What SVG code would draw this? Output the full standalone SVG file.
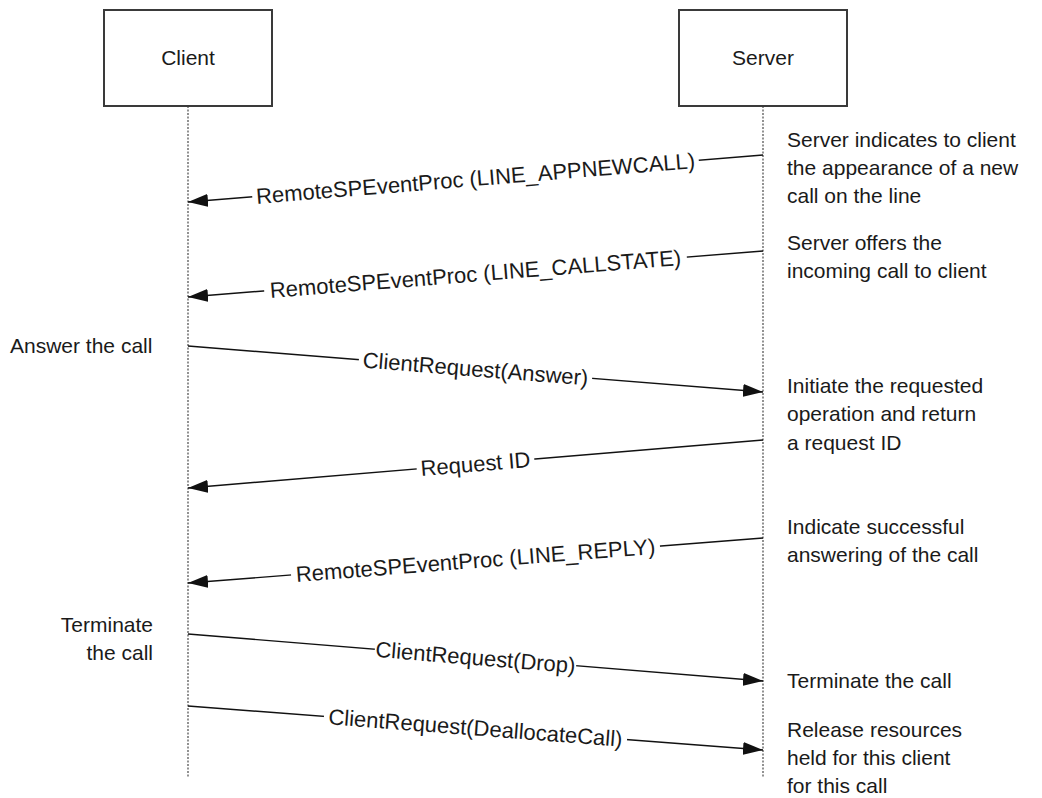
<svg xmlns="http://www.w3.org/2000/svg" width="1042" height="798" viewBox="0 0 1042 798">
<defs>
<style>
.box{fill:#fff;stroke:#3a3a3a;stroke-width:2}
.life{stroke:#777;stroke-width:1.6;stroke-dasharray:2,1.5;fill:none}
.msg{stroke:#111;stroke-width:1.4;fill:none;marker-end:url(#ah)}
.t{font-family:"Liberation Sans",Arial,sans-serif;font-size:21px;fill:#1a1a1a}
.lbl{font-family:"Liberation Sans",Arial,sans-serif;font-size:22px;fill:#1a1a1a;text-anchor:middle}
.bg{fill:#fff;stroke:none}
.c{text-anchor:middle}
.e{text-anchor:end}
</style>
<marker id="ah" markerUnits="userSpaceOnUse" markerWidth="20" markerHeight="13" refX="20" refY="6.5" orient="auto">
<path d="M0,0 L20,6.5 L0,13 z" fill="#111"/>
</marker>
</defs>
<rect width="1042" height="798" fill="#fff"/>

<g id="client">
<line class="life" x1="188" y1="106" x2="188" y2="778"/>
<rect class="box" x="104" y="10" width="168" height="96"/>
<text class="t c" x="188" y="65">Client</text>
</g>

<g id="server">
<line class="life" x1="763" y1="106" x2="763" y2="778"/>
<rect class="box" x="679" y="10" width="168" height="96"/>
<text class="t c" x="763" y="65">Server</text>
</g>

<g id="connectors">
<line class="msg" x1="763" y1="155" x2="188" y2="202"/>
<g transform="translate(475.5,178.5) rotate(-4.67)"><rect class="bg" x="-224" y="-12" width="448" height="24"/><text class="lbl" x="0" y="7.5">RemoteSPEventProc (LINE_APPNEWCALL)</text></g>

<line class="msg" x1="763" y1="251" x2="188" y2="297"/>
<g transform="translate(475.5,274) rotate(-4.57)"><rect class="bg" x="-212" y="-12" width="424" height="24"/><text class="lbl" x="0" y="7.5">RemoteSPEventProc (LINE_CALLSTATE)</text></g>

<line class="msg" x1="188" y1="346" x2="763" y2="392"/>
<g transform="translate(475.5,369) rotate(4.57)"><rect class="bg" x="-117" y="-12" width="234" height="24"/><text class="lbl" x="0" y="7.5">ClientRequest(Answer)</text></g>

<line class="msg" x1="763" y1="440" x2="188" y2="488"/>
<g transform="translate(475.5,464) rotate(-4.77)"><rect class="bg" x="-59" y="-12" width="118" height="24"/><text class="lbl" x="0" y="7.5">Request ID</text></g>

<line class="msg" x1="763" y1="538" x2="188" y2="583"/>
<g transform="translate(475.5,560.5) rotate(-4.47)"><rect class="bg" x="-185" y="-12" width="370" height="24"/><text class="lbl" x="0" y="7.5">RemoteSPEventProc (LINE_REPLY)</text></g>

<line class="msg" x1="188" y1="634" x2="763" y2="681"/>
<g transform="translate(475.5,657.5) rotate(4.67)"><rect class="bg" x="-101" y="-12" width="202" height="24"/><text class="lbl" x="0" y="7.5">ClientRequest(Drop)</text></g>

<line class="msg" x1="188" y1="706" x2="763" y2="750"/>
<g transform="translate(475.5,728) rotate(4.37)"><rect class="bg" x="-152" y="-12" width="304" height="24"/><text class="lbl" x="0" y="7.5">ClientRequest(DeallocateCall)</text></g>
</g>

<g id="client-notes">
<text class="t" x="10" y="353">Answer the call</text>
<text class="t e" x="153" y="632">Terminate</text>
<text class="t e" x="153" y="660">the call</text>
</g>

<g id="server-notes">
<text class="t" x="787" y="147">Server indicates to client</text>
<text class="t" x="787" y="175">the appearance of a new</text>
<text class="t" x="787" y="203">call on the line</text>
<text class="t" x="787" y="250">Server offers the</text>
<text class="t" x="787" y="278">incoming call to client</text>
<text class="t" x="787" y="393">Initiate the requested</text>
<text class="t" x="787" y="421">operation and return</text>
<text class="t" x="787" y="450">a request ID</text>
<text class="t" x="787" y="534">Indicate successful</text>
<text class="t" x="787" y="562">answering of the call</text>
<text class="t" x="787" y="688">Terminate the call</text>
<text class="t" x="787" y="737">Release resources</text>
<text class="t" x="787" y="765">held for this client</text>
<text class="t" x="787" y="793">for this call</text>
</g>
</svg>
